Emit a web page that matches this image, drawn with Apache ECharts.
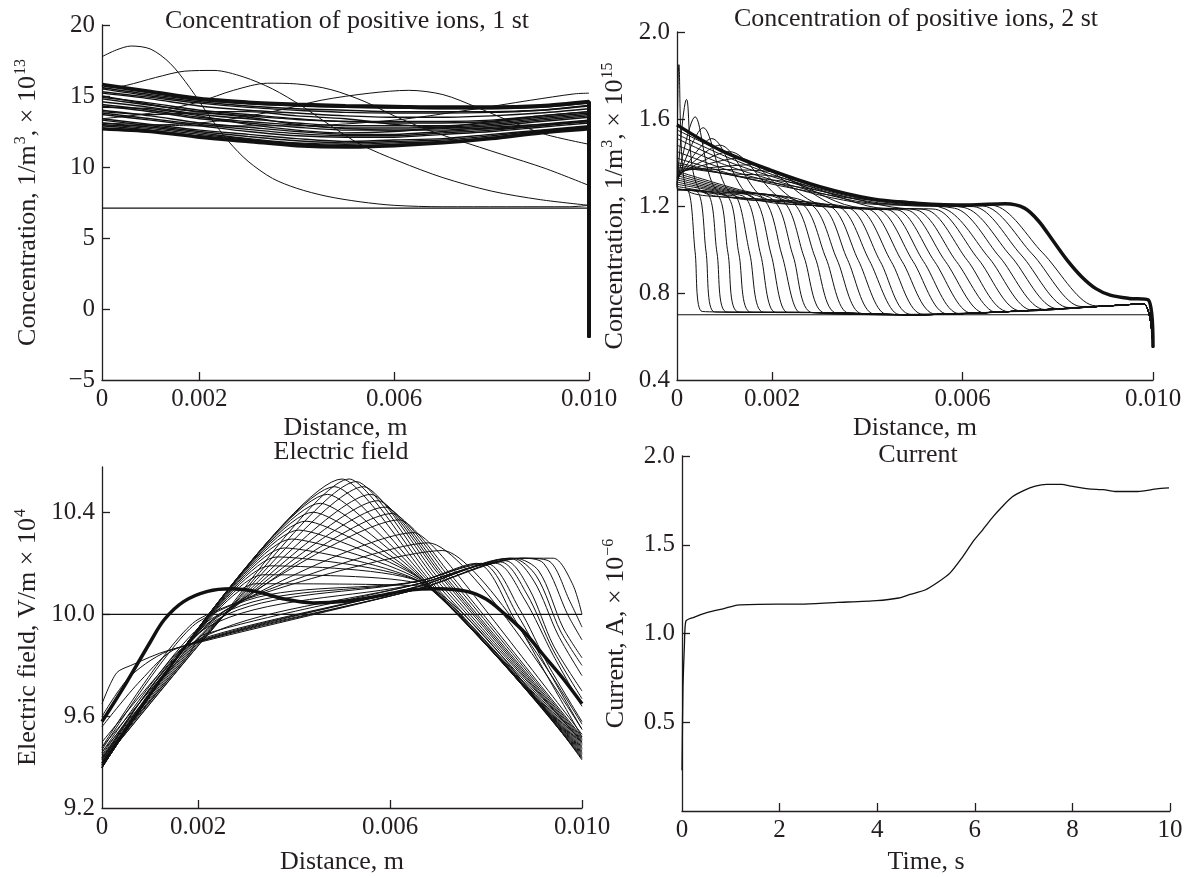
<!DOCTYPE html>
<html><head><meta charset="utf-8">
<script src="https://cdn.jsdelivr.net/npm/echarts@6/dist/echarts.min.js"></script>
<style>html,body{margin:0;padding:0;background:#fff}#c{width:1187px;height:878px}</style>
</head><body><div id="c"></div>
<script>
// ---------- Panel 1: Concentration of positive ions, 1 st ----------
const ions1Grid = [0,0.001,0.002,0.003,0.004,0.005,0.006,0.007,0.008,0.009,0.01];
const ions1Upper = [15.8,15.3,14.8,14.55,14.4,14.3,14.25,14.2,14.2,14.3,14.6];
const ions1Lower = [12.7,12.5,12.1,11.8,11.5,11.4,11.5,11.7,12.0,12.4,12.7];
const ions1Band = [
  [15.6,15.1,14.7,14.45,14.3,14.2,14.15,14.1,14.1,14.2,14.5],
  [15.5,15.0,14.6,14.3,14.1,14.0,13.9,13.9,13.9,14.0,14.3],
  [15.3,14.9,14.5,14.2,14.0,13.85,13.8,13.8,13.85,14.0,14.35],
  [15.2,14.8,14.3,14.0,13.8,13.6,13.5,13.5,13.6,13.8,14.1],
  [14.9,14.5,14.0,13.7,13.4,13.2,13.2,13.2,13.3,13.6,13.9],
  [14.8,14.35,13.9,13.6,13.35,13.2,13.1,13.1,13.2,13.5,13.8],
  [14.6,14.2,13.7,13.4,13.1,12.9,12.9,12.9,13.1,13.4,13.7],
  [14.4,14.0,13.5,13.2,12.95,12.75,12.75,12.8,13.0,13.3,13.6],
  [14.3,13.9,13.4,13.1,12.8,12.6,12.6,12.7,12.9,13.2,13.5],
  [14.0,13.6,13.1,12.8,12.5,12.3,12.3,12.5,12.7,13.0,13.3],
  [13.8,13.4,13.0,12.65,12.35,12.2,12.2,12.4,12.6,12.9,13.2],
  [13.7,13.3,12.9,12.5,12.2,12.1,12.1,12.3,12.5,12.8,13.1],
  [13.4,13.0,12.6,12.3,12.0,11.8,11.9,12.0,12.3,12.6,12.9],
  [13.3,12.9,12.5,12.15,11.85,11.7,11.8,11.9,12.2,12.55,12.85],
  [13.1,12.8,12.4,12.0,11.7,11.6,11.7,11.8,12.1,12.5,12.8],
  [13.0,12.7,12.3,11.95,11.65,11.5,11.6,11.75,12.05,12.45,12.75],
  [12.9,12.6,12.2,11.9,11.6,11.45,11.55,11.7,12.0,12.4,12.7],
  [14.2,14.1,13.6,13.0,12.6,12.4,12.5,12.8,13.2,13.6,13.9],
  [13.9,13.7,13.8,13.5,13.0,12.7,12.6,12.6,12.8,13.0,13.2],
  [15.0,14.4,13.9,13.9,13.6,13.4,13.0,12.8,12.7,12.9,13.3]
];
const ions1EndDrop = -2;
const ions1Flat = [[0,7.1],[0.01,7.1]];
const ions1Waves = [
  [[0,17.77],[0.0003,18.25],[0.0006,18.52],[0.001,18.3],[0.0014,17.3],[0.0018,15.6],[0.0022,13.6],[0.0026,11.8],[0.003,10.4],[0.0035,9.2],[0.004,8.5],[0.0046,7.95],[0.0053,7.55],[0.006,7.3],[0.007,7.2],[0.0096,7.2],[0.01,7.3]],
  [[0,15.5],[0.0005,15.75],[0.0011,16.3],[0.0017,16.75],[0.0023,16.8],[0.0029,16.35],[0.0035,15.5],[0.0041,14.3],[0.0047,12.9],[0.0053,11.6],[0.0061,10.4],[0.007,9.25],[0.008,8.3],[0.009,7.7],[0.01,7.3]],
  [[0,13.4],[0.001,13.8],[0.002,14.6],[0.0027,15.4],[0.0034,15.9],[0.004,15.85],[0.0047,15.45],[0.0054,14.6],[0.006,13.6],[0.0067,12.6],[0.0073,11.9],[0.0082,10.9],[0.0091,9.9],[0.01,8.7]],
  [[0,12.9],[0.002,13.1],[0.0035,13.9],[0.0045,14.7],[0.0055,15.2],[0.0063,15.4],[0.007,15.1],[0.0077,14.2],[0.0084,13.2],[0.0091,12.3],[0.01,11.6]],
  [[0,13.1],[0.002,12.9],[0.004,12.9],[0.006,13.3],[0.0075,14.0],[0.0088,14.7],[0.0097,15.15],[0.01,15.2]]
];

// ---------- Panel 2: Concentration of positive ions, 2 st ----------
const ions2Flat = [[0,0.7],[0.01,0.7]];
const ions2Baseline = [[0.003,0.71],[0.005,0.70],[0.007,0.715],[0.009,0.74],[0.0098,0.75]];
const ions2EndDrop = 0.55;
const ions2Heads = [
  [[0,1.275],[0.00023,1.27],[0.00038,0.99],[0.00053,0.715]],
  [[0,1.275],[0.00043,1.265],[0.00061,0.99],[0.00079,0.713]],
  [[0,1.275],[0.00063,1.26],[0.00084,0.985],[0.00105,0.712]],
  [[0,1.275],[0.00083,1.255],[0.00107,0.985],[0.0013,0.712]],
  [[0,1.275],[0.00103,1.25],[0.0013,0.98],[0.00156,0.711]],
  [[0,1.28],[0.001,1.25],[0.00123,1.245],[0.00153,0.98],[0.00182,0.711]],
  [[0,1.29],[0.0008,1.26],[0.00143,1.24],[0.00176,0.975],[0.00208,0.71]],
  [[0,1.30],[0.0009,1.265],[0.00163,1.235],[0.00198,0.975],[0.00233,0.71]],
  [[0,1.31],[0.001,1.265],[0.00183,1.23],[0.00221,0.97],[0.00259,0.71]],
  [[0,1.32],[0.001,1.27],[0.00203,1.227],[0.00244,0.97],[0.00285,0.709]],
  [[0,1.33],[0.0011,1.27],[0.00223,1.222],[0.00267,0.965],[0.00311,0.708]],
  [[0,1.34],[0.0012,1.27],[0.00243,1.217],[0.0029,0.965],[0.00336,0.707]],
  [[0,1.35],[0.0013,1.27],[0.00263,1.21],[0.00313,0.96],[0.00362,0.706]],
  [[0,1.36],[0.0014,1.27],[0.00283,1.205],[0.00336,0.955],[0.00388,0.705]],
  [[0,1.28],[0.00004,1.85],[0.00019,1.28],[0.0015,1.235],[0.00303,1.2],[0.00358,0.955],[0.00413,0.704]],
  [[0,1.29],[0.0002,1.69],[0.0005,1.27],[0.002,1.228],[0.00323,1.197],[0.00381,0.95],[0.00439,0.703]],
  [[0,1.30],[0.00038,1.61],[0.00088,1.262],[0.0025,1.215],[0.00343,1.193],[0.00404,0.95],[0.00465,0.702]],
  [[0,1.31],[0.00055,1.56],[0.00115,1.255],[0.0025,1.215],[0.00363,1.19],[0.00427,0.945],[0.00491,0.702]],
  [[0,1.32],[0.00073,1.51],[0.00153,1.245],[0.003,1.2],[0.00383,1.187],[0.0045,0.945],[0.00517,0.702]],
  [[0,1.33],[0.0009,1.48],[0.0018,1.24],[0.003,1.2],[0.00403,1.185],[0.00473,0.945],[0.00543,0.703]],
  [[0,1.34],[0.0011,1.45],[0.0022,1.232],[0.0033,1.195],[0.00423,1.184],[0.00496,0.945],[0.00568,0.704]],
  [[0,1.35],[0.0013,1.42],[0.0025,1.225],[0.0035,1.19],[0.00443,1.183],[0.00518,0.945],[0.00593,0.705]],
  [[0,1.36],[0.0016,1.39],[0.0029,1.215],[0.004,1.185],[0.00463,1.182],[0.00541,0.945],[0.00619,0.707]],
  [[0,1.37],[0.0019,1.36],[0.0033,1.205],[0.004,1.188],[0.00483,1.182],[0.00564,0.945],[0.00645,0.709]],
  [[0,1.38],[0.001,1.35],[0.0022,1.33],[0.0037,1.197],[0.00503,1.182],[0.00587,0.945],[0.00671,0.711]],
  [[0,1.39],[0.0012,1.34],[0.0026,1.30],[0.0042,1.192],[0.00523,1.183],[0.0061,0.95],[0.00697,0.714]],
  [[0,1.40],[0.0014,1.33],[0.003,1.27],[0.0047,1.19],[0.00543,1.185],[0.00633,0.955],[0.00723,0.717]],
  [[0,1.42],[0.0016,1.32],[0.0035,1.24],[0.00563,1.187],[0.00656,0.96],[0.00748,0.72]],
  [[0,1.45],[0.001,1.37],[0.002,1.31],[0.003,1.25],[0.004,1.21],[0.00583,1.19],[0.00678,0.965],[0.00773,0.724]],
  [[0,1.48],[0.001,1.39],[0.002,1.32],[0.003,1.26],[0.004,1.215],[0.00603,1.193],[0.00701,0.97],[0.00799,0.728]],
  [[0,1.51],[0.001,1.41],[0.002,1.335],[0.003,1.27],[0.004,1.222],[0.005,1.2],[0.00623,1.197],[0.00723,0.975],[0.00823,0.733]],
  [[0,1.53],[0.001,1.43],[0.002,1.345],[0.003,1.278],[0.004,1.228],[0.005,1.205],[0.00643,1.2],[0.00746,0.98],[0.00849,0.738]],
  [[0,1.55],[0.001,1.445],[0.002,1.355],[0.003,1.283],[0.004,1.232],[0.005,1.21],[0.00663,1.203],[0.00768,0.985],[0.00873,0.743]]
];
const ions2Final = [[0,1.573],[0.0009,1.458],[0.00195,1.366],[0.003,1.289],[0.00405,1.235],[0.0051,1.212],[0.00616,1.205],[0.0069,1.21],[0.0073,1.19],[0.0076,1.13],[0.0079,1.04],[0.0082,0.95],[0.0085,0.875],[0.0088,0.82],[0.0091,0.79],[0.0095,0.775],[0.0099,0.768],[0.01,0.55]];

// ---------- Panel 3: Electric field ----------
const field3Flat = [[0,10],[0.01,10]];
const field3Final = [[0,9.58],[0.0005,9.73],[0.001,9.89],[0.0013,9.98],[0.0017,10.05],[0.0022,10.09],[0.0027,10.1],[0.0032,10.09],[0.0038,10.06],[0.0044,10.045],[0.005,10.05],[0.0057,10.07],[0.0064,10.095],[0.007,10.1],[0.0076,10.09],[0.008,10.06],[0.0084,10.0],[0.0088,9.93],[0.0092,9.84],[0.0096,9.75],[0.01,9.65]];
const field3RightDrop = [
  [[0,9.65],[0.0003,9.77],[0.0006,9.8],[0.0014,9.86],[0.0066,10.1],[0.0088,10.22],[0.0094,10.22],[0.0098,10.12],[0.01,10.0]],
  [[0,9.6],[0.0006,9.76],[0.0015,9.865],[0.0066,10.1],[0.00875,10.22],[0.0093,10.21],[0.00975,10.05],[0.01,9.95]],
  [[0,9.56],[0.0008,9.74],[0.0016,9.87],[0.0066,10.1],[0.0087,10.22],[0.0092,10.2],[0.0097,10.0],[0.01,9.9]],
  [[0,9.5],[0.0012,9.77],[0.0018,9.88],[0.0066,10.11],[0.0086,10.22],[0.0091,10.17],[0.0096,9.95],[0.01,9.83]],
  [[0,9.48],[0.0014,9.79],[0.0019,9.89],[0.0066,10.11],[0.00855,10.22],[0.00905,10.15],[0.00955,9.935],[0.01,9.8]],
  [[0,9.46],[0.0015,9.8],[0.002,9.9],[0.0066,10.11],[0.0085,10.22],[0.009,10.13],[0.0095,9.92],[0.01,9.76]],
  [[0,9.44],[0.0018,9.84],[0.0021,9.92],[0.0066,10.12],[0.0084,10.21],[0.0089,10.1],[0.0094,9.88],[0.01,9.7]],
  [[0,9.43],[0.002,9.9],[0.0066,10.12],[0.0083,10.205],[0.00885,10.08],[0.0094,9.86],[0.01,9.67]],
  [[0,9.42],[0.0022,9.95],[0.0066,10.12],[0.0082,10.2],[0.0088,10.06],[0.0094,9.84],[0.01,9.64]],
  [[0,9.41],[0.0024,9.98],[0.0066,10.13],[0.008,10.2],[0.0087,10.02],[0.0093,9.8],[0.01,9.58]],
  [[0,9.405],[0.0025,10.0],[0.0066,10.13],[0.0079,10.2],[0.00865,10.0],[0.0093,9.78],[0.01,9.55]],
  [[0,9.4],[0.0026,10.02],[0.0066,10.13],[0.0078,10.2],[0.0086,9.98],[0.0093,9.75],[0.01,9.52]]
];
const field3Tents = [
  [[0,9.40],[0.0032,10.12],[0.0067,10.11],[0.01,9.43]],
  [[0,9.40],[0.00335,10.155],[0.0067,10.115],[0.01,9.435]],
  [[0,9.40],[0.0035,10.19],[0.0067,10.12],[0.01,9.44]],
  [[0,9.40],[0.00365,10.225],[0.0067,10.12],[0.01,9.445]],
  [[0,9.40],[0.0038,10.26],[0.0067,10.12],[0.01,9.45]],
  [[0,9.405],[0.00395,10.295],[0.0067,10.125],[0.01,9.455]],
  [[0,9.41],[0.0041,10.33],[0.0067,10.13],[0.01,9.46]],
  [[0,9.41],[0.00425,10.365],[0.0067,10.13],[0.01,9.465]],
  [[0,9.41],[0.0044,10.40],[0.0067,10.13],[0.01,9.47]],
  [[0,9.41],[0.00455,10.435],[0.0067,10.135],[0.01,9.475]],
  [[0,9.41],[0.0047,10.47],[0.0067,10.14],[0.01,9.48]],
  [[0,9.415],[0.00485,10.50],[0.00675,10.14],[0.01,9.485]],
  [[0,9.42],[0.005,10.53],[0.0068,10.14],[0.01,9.49]],
  [[0,9.42],[0.0022,9.92],[0.00515,10.53],[0.00685,10.145],[0.01,9.495]],
  [[0,9.42],[0.0022,9.92],[0.0053,10.52],[0.0069,10.15],[0.01,9.5]],
  [[0,9.425],[0.0022,9.925],[0.00545,10.5],[0.00695,10.155],[0.01,9.5]],
  [[0,9.43],[0.0022,9.93],[0.0056,10.47],[0.007,10.16],[0.01,9.5]],
  [[0,9.435],[0.0022,9.935],[0.00575,10.445],[0.00705,10.16],[0.01,9.505]],
  [[0,9.44],[0.0022,9.94],[0.0059,10.42],[0.0071,10.16],[0.01,9.51]],
  [[0,9.445],[0.0022,9.945],[0.00605,10.395],[0.00715,10.165],[0.01,9.515]],
  [[0,9.45],[0.0021,9.95],[0.0062,10.37],[0.0072,10.17],[0.01,9.52]],
  [[0,9.46],[0.0021,9.96],[0.0065,10.32],[0.0073,10.18],[0.01,9.53]],
  [[0,9.47],[0.002,9.97],[0.0068,10.28],[0.01,9.55]],
  [[0,9.48],[0.002,9.98],[0.0071,10.25],[0.01,9.57]]
];

// ---------- Panel 4: Current ----------
const currentTime = [0,0.02,0.05,0.08,0.23,0.54,0.86,1.13,1.95,2.49,3.19,3.98,4.44,4.67,4.98,5.25,5.49,5.72,5.97,6.15,6.38,6.58,6.77,7.0,7.24,7.47,7.78,7.98,8.33,8.64,8.87,9.34,9.73,9.98];
const currentValue = [0.23,0.70,0.94,1.07,1.09,1.12,1.14,1.16,1.166,1.166,1.175,1.185,1.20,1.22,1.245,1.29,1.34,1.42,1.52,1.58,1.66,1.72,1.77,1.805,1.83,1.84,1.84,1.83,1.815,1.81,1.80,1.80,1.815,1.82];

// ---------- tick labels ----------
const distTicks = [0.002,0.006,0.01];
const distLabels = [0,0.002,0.006,0.01];
const ions1YLabels = [-5,0,5,10,15,20];
const ions2YLabels = [0.4,0.8,1.2,1.6,2.0];
// the "9.2" label sits at the bottom of the axis, as in the source figure
const field3YMin = 9.242, field3YMax = 10.577;
const field3YLabels = [field3YMin,9.6,10.0,10.4];
const field3YLabelText = ['9.2','9.6','10.0','10.4'];
const currentYLabels = [0.5,1.0,1.5,2.0];
const timeLabels = [0,2,4,6,8,10];
const timeTicks = [2,4,6,8,10];

// ---------- build ----------
const FONT = 'Liberation Serif';
const INK = '#231f20';
const rich = {s:{fontSize:16,fontFamily:FONT,color:INK,verticalAlign:'top',padding:[0,0,0,1]}};
function axisBase(gi, min, max, labels, ticks, fmt, name, gap, isY){
  return {type:'value', gridIndex:gi, min, max,
    axisLine:{show:true,onZero:false,lineStyle:{color:INK,width:1.3}},
    axisTick:{show:true,inside:true,length:8,customValues:ticks,lineStyle:{color:INK,width:1.3}},
    axisLabel:{customValues:labels,formatter:fmt,color:INK,fontFamily:FONT,fontSize:25,margin:7},
    splitLine:{show:false},
    name, nameLocation:'middle', nameGap:gap, nameRotate: isY?90:0,
    nameTextStyle:{color:INK,fontFamily:FONT,fontSize:26,lineHeight:30,rich}
  };
}
const fmtDist = v => v===0 ? '0' : v.toFixed(3);
const fmt1 = v => v.toFixed(1);
const fmtInt = v => v<0 ? '\u2212'+Math.abs(v) : String(v);
const fmtField = v => { const i = field3YLabels.findIndex(l => Math.abs(l - v) < 1e-6); return i >= 0 ? field3YLabelText[i] : ''; };

const grids = [
  {left:102, top:25, width:487, height:355},
  {left:677, top:32, width:476, height:348},
  {left:102, top:467, width:480, height:347},
  {left:682, top:456, width:488, height:358}
];
const xAxes = [
  axisBase(0,0,0.01,distLabels,distTicks,fmtDist,'Distance, m',32,false),
  axisBase(1,0,0.01,distLabels,distTicks,fmtDist,'Distance, m',32,false),
  axisBase(2,0,0.01,distLabels,distTicks,fmtDist,'Distance, m',39,false),
  axisBase(3,0,10,timeLabels,timeTicks,v=>String(v),'Time, s',36,false)
];
const yAxes = [
  axisBase(0,-5,20,ions1YLabels,[0,5,10,15,20],fmtInt,'Concentration, 1/m{s|3}, \u00d7 10{s|13}',59,true),
  axisBase(1,0.4,2.0,ions2YLabels,[0.8,1.2,1.6,2.0],fmt1,'Concentration, 1/m{s|3}, \u00d7 10{s|15}',47,true),
  axisBase(2,field3YMin,field3YMax,field3YLabels,[9.6,10.0,10.4],fmtField,'Electric field, V/m \u00d7 10{s|4}',59,true),
  axisBase(3,0,2.0,currentYLabels,currentYLabels,fmt1,'Current, A, \u00d7 10{s|\u22126}',51,true)
];

const series = [];
function add(gi, data, width, smooth){
  series.push({type:'line', xAxisIndex:gi, yAxisIndex:gi, data, symbol:'none', showSymbol:false,
    smooth: smooth, clip:false, silent:true, animation:false,
    lineStyle:{color:'#111', width}});
}
// panel 1
add(0, ions1Flat, 1.2, false);
ions1Band.forEach(v => add(0, ions1Grid.map((x,i)=>[x,v[i]]).concat([[0.01,ions1EndDrop]]), 1.4, 0.3));
ions1Waves.forEach(w => add(0, w, 1, 0.3));
add(0, ions1Grid.map((x,i)=>[x,ions1Lower[i]]).concat([[0.01,ions1EndDrop]]), 3.5, 0.3);
add(0, ions1Grid.map((x,i)=>[x,ions1Upper[i]]).concat([[0.01,ions1EndDrop]]), 4, 0.3);
// panel 2
add(1, ions2Flat, 1.2, false);
ions2Heads.forEach(h => {
  const lastX = h[h.length-1][0];
  const tail = ions2Baseline.filter(p => p[0] > lastX + 0.0002);
  add(1, h.concat(tail, [[0.01, ions2EndDrop]]), 1, 0.3);
});
add(1, ions2Final, 3.5, 0.3);
// panel 3
add(2, field3Flat, 1.2, false);
field3RightDrop.forEach(c => add(2, c, 1, 0.3));
field3Tents.forEach(c => add(2, c, 1, 0.2));
add(2, field3Final, 3.5, 0.35);
// panel 4
add(3, currentTime.map((t,i)=>[t,currentValue[i]]), 1.3, 0.2);

const titleFont = '26px "Liberation Serif"';
const graphic = [
  {type:'text', x:347, y:21, style:{text:'Concentration of positive ions, 1 st', font:titleFont, fill:INK, textAlign:'center', textVerticalAlign:'middle'}},
  {type:'text', x:916, y:19, style:{text:'Concentration of positive ions, 2 st', font:titleFont, fill:INK, textAlign:'center', textVerticalAlign:'middle'}},
  {type:'text', x:341, y:452, style:{text:'Electric field', font:titleFont, fill:INK, textAlign:'center', textVerticalAlign:'middle'}},
  {type:'text', x:918, y:455, style:{text:'Current', font:titleFont, fill:INK, textAlign:'center', textVerticalAlign:'middle'}}
];

const chart = echarts.init(document.getElementById('c'), null, {renderer:'canvas'});
chart.setOption({animation:false, backgroundColor:'#fff', grid:grids, xAxis:xAxes, yAxis:yAxes, series, graphic});
</script></body></html>
